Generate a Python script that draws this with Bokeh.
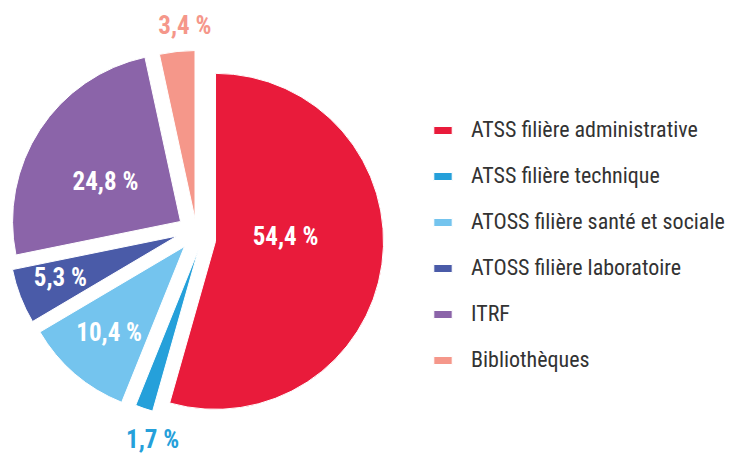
import math
from bokeh.plotting import figure
from bokeh.models import ColumnDataSource, Range1d
from bokeh.core.properties import value
from bokeh.embed import file_html
from bokeh.resources import INLINE

# ---- data ----
categories = ["ATSS filière administrative", "ATSS filière technique",
              "ATOSS filière santé et sociale", "ATOSS filière laboratoire",
              "ITRF", "Bibliothèques"]
shares = [54.4, 1.7, 10.4, 5.3, 24.8, 3.4]
labels = ["54,4 %", "1,7 %", "10,4 %", "5,3 %", "24,8 %", "3,4 %"]

# ---- style ----
colors = ["#E91B3B", "#25A0DA", "#74C4EE", "#4A5BA8", "#8B64A9", "#F5978A"]
label_colors = ["white", "#25A0DA", "white", "white", "white", "#F5978A"]
explode = [17.7, 13, 17.2, 21.4, 23.4, 18.3]     # slice offset distance
explode_shift = [8, -18.9, 13.8, 22.4, 6.8, -4.9]  # offset direction tweak (deg)
label_r = [87, 208.5, 131, 144, 108, 211]        # label distance from centre
label_shift = [-7.9, -6.2, 2.3, 4.6, -2.6, 2.4]  # label angle tweak (deg)
FONT = "Roboto Condensed"

W, H = 730, 455
cx, cy, R = 198, 219, 168

total = sum(shares)
xs, ys, sa, ea, lx, ly = [], [], [], [], [], []
acc = 0.0
for i, s in enumerate(shares):
    t0 = acc / total * 360.0
    acc += s
    t1 = acc / total * 360.0
    mid = (t0 + t1) / 2.0
    ea_ = math.radians(mid + explode_shift[i])
    xs.append(cx + explode[i] * math.sin(ea_))
    ys.append(cy + explode[i] * math.cos(ea_))
    sa.append(math.radians(90 - t0))
    ea.append(math.radians(90 - t1))
    la = math.radians(mid + label_shift[i])
    lx.append(cx + label_r[i] * math.sin(la))
    ly.append(cy + label_r[i] * math.cos(la))

src = ColumnDataSource(dict(x=xs, y=ys, start=sa, end=ea, color=colors,
                            category=categories))
lsrc = ColumnDataSource(dict(x=lx, y=ly, text=labels, color=label_colors))

p = figure(width=W, height=H, x_range=Range1d(0, W), y_range=Range1d(0, H),
           x_axis_type=None, y_axis_type=None, toolbar_location=None,
           output_backend="svg", min_border=0, outline_line_color=None)
p.grid.visible = False

p.wedge(x="x", y="y", radius=R, start_angle="start", end_angle="end",
        direction="clock", fill_color="color", line_color="white",
        line_width=1, source=src, legend_field="category")

p.text(x="x", y="y", text="text", text_color="color", source=lsrc,
       text_align="center", text_baseline="middle",
       text_font=value(FONT), text_font_style="bold",
       text_font_size="25px")

lg = p.legend[0]
lg.location = (431, 83)
lg.label_text_font = FONT
lg.label_text_font_size = "22px"
lg.label_text_color = "#333333"
lg.glyph_width = 23
lg.glyph_height = 10
lg.label_standoff = 17
lg.spacing = 21
lg.padding = 0
lg.margin = 0
lg.border_line_color = None
lg.background_fill_alpha = 0

open("out.html", "w").write(file_html(p, INLINE))
